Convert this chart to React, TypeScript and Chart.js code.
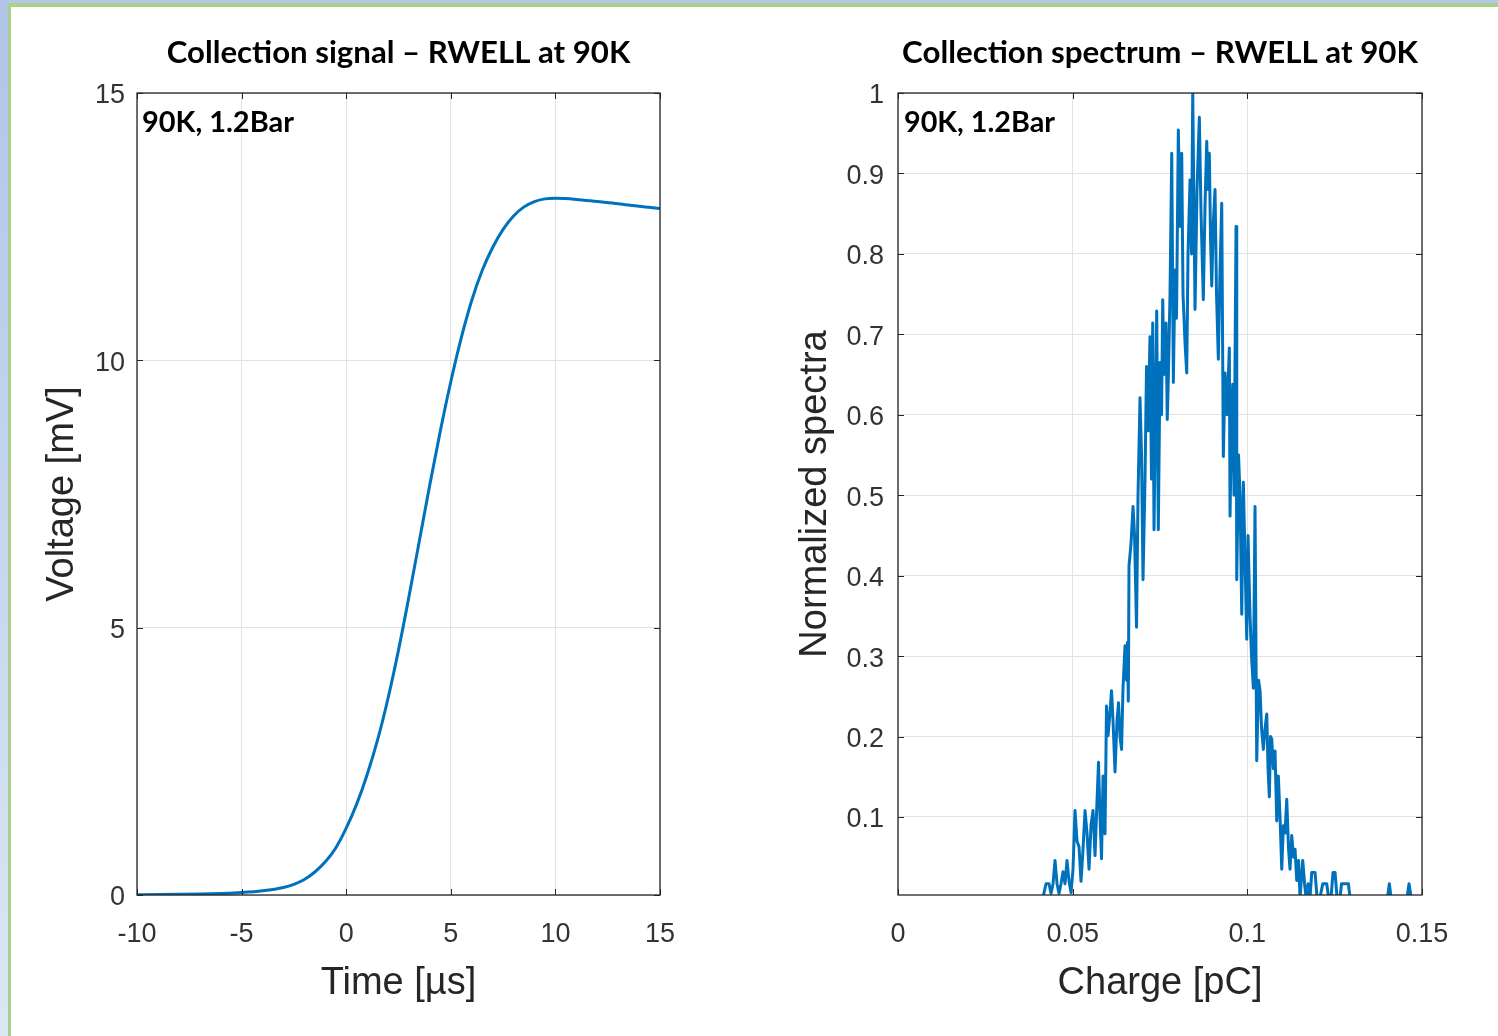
import React, { useEffect, useRef } from "react";
import { Chart, registerables } from "chart.js";

Chart.register(...registerables);

// ---------- Left panel: collection signal ----------
const SIGNAL_TIME = [
  -10, -9, -8, -7, -6, -5, -4, -3, -2.5, -2, -1.5, -1, -0.5, 0, 0.5, 1, 1.5, 2, 2.5, 3,
  3.5, 4, 4.5, 5, 5.5, 6, 6.5, 7, 7.5, 8, 8.5, 9, 9.5, 10, 11, 12, 13, 14, 15,
];
const SIGNAL_VOLTAGE = [
  0.005, 0.008, 0.012, 0.018, 0.028, 0.045, 0.078, 0.14, 0.2, 0.29, 0.43, 0.62, 0.88, 1.25,
  1.7, 2.25, 2.9, 3.68, 4.58, 5.58, 6.63, 7.68, 8.68, 9.6, 10.42, 11.12, 11.68, 12.11, 12.45,
  12.7, 12.87, 12.97, 13.02, 13.03, 13.01, 12.97, 12.93, 12.88, 12.84,
];
const SIGNAL_X_TICKS = [-10, -5, 0, 5, 10, 15];
const SIGNAL_Y_TICKS = [0, 5, 10, 15];

// ---------- Right panel: collection spectrum ----------
const SPECTRUM_CHARGE = [
  0.04151, 0.04237, 0.04323, 0.0438, 0.04438, 0.04495, 0.04552, 0.04609, 0.04667, 0.04724,
  0.04781, 0.04838, 0.04896, 0.04953, 0.0501, 0.05067, 0.05125, 0.05182, 0.05239, 0.05296,
  0.05354, 0.05411, 0.05468, 0.05525, 0.05583, 0.0564, 0.05697, 0.0574, 0.05783, 0.05826,
  0.05869, 0.05926, 0.05969, 0.06012, 0.06069, 0.06112, 0.06155, 0.06212, 0.0627, 0.06313,
  0.06356, 0.06399, 0.06441, 0.06499, 0.06542, 0.0657, 0.06593, 0.06613, 0.06671, 0.06728,
  0.06771, 0.06828, 0.06871, 0.06928, 0.06971, 0.07014, 0.07071, 0.07114, 0.07157, 0.07214,
  0.07257, 0.07292, 0.07329, 0.07406, 0.07452, 0.07501, 0.07544, 0.07578, 0.07615, 0.07673,
  0.07707, 0.07738, 0.07787, 0.07836, 0.07882, 0.0793, 0.07973, 0.08025, 0.08073, 0.08122,
  0.08159, 0.08216, 0.08265, 0.08302, 0.0836, 0.08403, 0.08437, 0.08474, 0.08503, 0.0856,
  0.08626, 0.08675, 0.0874, 0.08789, 0.08838, 0.08875, 0.08912, 0.08946, 0.08981, 0.09027,
  0.09075, 0.09118, 0.0917, 0.09218, 0.09267, 0.09313, 0.09362, 0.09419, 0.09485, 0.09505,
  0.09548, 0.09582, 0.09619, 0.09677, 0.09697, 0.09748, 0.09791, 0.0984, 0.09886, 0.09934,
  0.09983, 0.1002, 0.10077, 0.1012, 0.10172, 0.1022, 0.10269, 0.10321, 0.10364, 0.10407,
  0.10458, 0.10507, 0.10556, 0.10593, 0.1063, 0.10664, 0.10699, 0.10744, 0.10793, 0.10842,
  0.10888, 0.10936, 0.10985, 0.11031, 0.11079, 0.11128, 0.1118, 0.11222, 0.11271, 0.11323,
  0.11366, 0.11414, 0.11466, 0.11509, 0.11586, 0.11638, 0.11681, 0.11738, 0.11795, 0.11844,
  0.1189, 0.11938, 0.11996, 0.12081, 0.12159, 0.1221, 0.12273, 0.12325, 0.12396, 0.12453,
  0.12511, 0.12568, 0.12654, 0.12697, 0.12748, 0.12797, 0.1284, 0.12892, 0.1294, 0.14014,
  0.14065, 0.14114, 0.14572, 0.14629, 0.14687,
];
const SPECTRUM_VALUES = [
  0, 0.017, 0.017, 0.005, 0.017, 0.046, 0.017, 0.005, 0.017, 0.032,
  0.017, 0.046, 0.02, 0.006, 0.035, 0.108, 0.07, 0.063, 0.02, 0.06,
  0.108, 0.08, 0.035, 0.09, 0.108, 0.052, 0.12, 0.168, 0.1, 0.048,
  0.151, 0.079, 0.238, 0.201, 0.23, 0.257, 0.22, 0.156, 0.22, 0.242,
  0.2, 0.184, 0.26, 0.313, 0.27, 0.317, 0.244, 0.412, 0.44, 0.486,
  0.45, 0.336, 0.5, 0.621, 0.55, 0.395, 0.52, 0.66, 0.58, 0.697,
  0.52, 0.714, 0.457, 0.729, 0.457, 0.665, 0.6, 0.743, 0.65, 0.714,
  0.594, 0.644, 0.75, 0.925, 0.64, 0.78, 0.72, 0.954, 0.834, 0.925,
  0.75, 0.69, 0.652, 0.8, 0.892, 0.8, 1.0, 0.85, 0.731, 0.88,
  0.97, 0.85, 0.743, 0.86, 0.94, 0.88, 0.925, 0.82, 0.76, 0.84,
  0.88, 0.75, 0.669, 0.78, 0.863, 0.548, 0.652, 0.6, 0.683, 0.474,
  0.6, 0.638, 0.5, 0.834, 0.395, 0.55, 0.5, 0.352, 0.516, 0.42,
  0.321, 0.45, 0.35, 0.3, 0.26, 0.486, 0.17, 0.27, 0.257, 0.21,
  0.184, 0.21, 0.228, 0.16, 0.125, 0.2, 0.197, 0.16, 0.182, 0.095,
  0.151, 0.1, 0.035, 0.089, 0.08, 0.122, 0.06, 0.035, 0.077, 0.05,
  0.06, 0.021, 0.046, 0, 0.046, 0.017, 0, 0.017, 0, 0.031,
  0.031, 0.031, 0, 0, 0.017, 0.017, 0.017, 0, 0, 0.031,
  0.031, 0, 0, 0.017, 0.017, 0.017, 0.017, 0.017, 0, 0,
  0.017, 0, 0, 0.017, 0,
];
const SPECTRUM_X_TICKS = [0, 0.05, 0.1, 0.15];
const SPECTRUM_Y_TICKS = [0.1, 0.2, 0.3, 0.4, 0.5, 0.6, 0.7, 0.8, 0.9, 1];

const TITLE_SIGNAL = "Collection signal \u2013 RWELL at 90K";
const TITLE_SPECTRUM = "Collection spectrum \u2013 RWELL at 90K";
const NOTE = "90K, 1.2Bar";

const LINE_BLUE = "#0072BD";
const GRID = "#e2e2e2";
const AXIS_DARK = "#262626";
const TICK_FONT = "'Liberation Sans', Arial, sans-serif";
const BOLD_FONT = "Lato, 'Noto Sans', sans-serif";

function fitFontSize(ctx: CanvasRenderingContext2D, text: string, width: number) {
  ctx.font = `bold 100px ${BOLD_FONT}`;
  const w = ctx.measureText(text).width;
  return (100 * width) / w;
}

const decorPlugin = {
  id: "decor",
  afterDatasetsDraw(chart: any, _args: any, opts: any) {
    const { ctx } = chart;
    const { left, right, top, bottom } = chart.chartArea;
    const xs = chart.scales.x;
    const ys = chart.scales.y;
    ctx.save();
    ctx.strokeStyle = AXIS_DARK;
    ctx.lineWidth = 1;
    ctx.beginPath();
    for (const t of xs.ticks) {
      const p = Math.round(xs.getPixelForValue(t.value)) + 0.5;
      ctx.moveTo(p, bottom);
      ctx.lineTo(p, bottom - 6);
      ctx.moveTo(p, top);
      ctx.lineTo(p, top + 6);
    }
    for (const t of ys.ticks) {
      const p = Math.round(ys.getPixelForValue(t.value)) + 0.5;
      ctx.moveTo(left, p);
      ctx.lineTo(left + 6, p);
      ctx.moveTo(right, p);
      ctx.lineTo(right - 6, p);
    }
    ctx.stroke();
    ctx.lineWidth = 1.3;
    ctx.strokeRect(left, top, right - left, bottom - top);

    ctx.fillStyle = "#000";
    ctx.textBaseline = "alphabetic";
    ctx.textAlign = "center";
    const ts = fitFontSize(ctx, opts.title, opts.titleWidth);
    ctx.font = `bold ${ts}px ${BOLD_FONT}`;
    ctx.fillText(opts.title, (left + right) / 2, top - 30);

    ctx.textAlign = "left";
    const ns = fitFontSize(ctx, opts.note, opts.noteWidth);
    ctx.font = `bold ${ns}px ${BOLD_FONT}`;
    ctx.fillText(opts.note, left + opts.noteDx, top + 39);
    ctx.restore();
  },
};

type PanelCfg = {
  xs: number[];
  ys: number[];
  xMin: number;
  xMax: number;
  yMin: number;
  yMax: number;
  xTicks: number[];
  yTicks: number[];
  xTitle: string;
  yTitle: string;
  padRight: number;
  yAxisWidth: number;
  yTickPad: number;
  yTitlePad: number;
  lineWidth: number;
  smooth: boolean;
  title: string;
  titleWidth: number;
  noteWidth: number;
  noteDx: number;
};

function buildChart(canvas: HTMLCanvasElement, c: PanelCfg) {
  return new Chart(canvas, {
    type: "line",
    data: {
      datasets: [
        {
          data: c.xs.map((x, i) => ({ x, y: c.ys[i] })),
          borderColor: LINE_BLUE,
          borderWidth: c.lineWidth,
          pointRadius: 0,
          fill: false,
          cubicInterpolationMode: c.smooth ? "monotone" : "default",
          tension: 0,
          clip: 0,
          borderJoinStyle: "round",
        } as any,
      ],
    },
    options: {
      responsive: false,
      animation: false,
      events: [],
      layout: { padding: { left: 0, top: 93, right: c.padRight, bottom: 0 } },
      plugins: {
        legend: { display: false },
        tooltip: { enabled: false },
        decor: {
          title: c.title,
          titleWidth: c.titleWidth,
          note: NOTE,
          noteWidth: c.noteWidth,
          noteDx: c.noteDx,
        },
      } as any,
      scales: {
        x: {
          type: "linear",
          min: c.xMin,
          max: c.xMax,
          afterBuildTicks: (s: any) => {
            s.ticks = c.xTicks.map((v) => ({ value: v }));
          },
          afterFit: (s: any) => {
            s.height = 141;
            s.paddingLeft = 0;
            s.paddingRight = 0;
          },
          grid: { color: GRID, lineWidth: 1, drawTicks: false },
          border: { display: false },
          ticks: {
            padding: 23,
            autoSkip: false,
            maxRotation: 0,
            color: "#333",
            font: { family: TICK_FONT, size: 27 },
            callback: (v: any) => String(v),
          },
          title: {
            display: true,
            text: c.xTitle,
            color: AXIS_DARK,
            font: { family: TICK_FONT, size: 38 },
            padding: { top: 0, bottom: 30 },
          },
        },
        y: {
          type: "linear",
          min: c.yMin,
          max: c.yMax,
          afterBuildTicks: (s: any) => {
            s.ticks = c.yTicks.map((v) => ({ value: v }));
          },
          afterFit: (s: any) => {
            s.width = c.yAxisWidth;
            s.paddingTop = 0;
            s.paddingBottom = 0;
          },
          grid: { color: GRID, lineWidth: 1, drawTicks: false },
          border: { display: false },
          ticks: {
            padding: c.yTickPad,
            labelOffset: 3,
            autoSkip: false,
            color: "#333",
            font: { family: TICK_FONT, size: 27 },
            callback: (v: any) => String(v),
          },
          title: {
            display: true,
            text: c.yTitle,
            color: AXIS_DARK,
            font: { family: TICK_FONT, size: 38 },
            padding: { top: c.yTitlePad, bottom: 0 },
          },
        },
      },
    } as any,
    plugins: [decorPlugin as any],
  });
}

export default function App() {
  const leftRef = useRef<HTMLCanvasElement>(null);
  const rightRef = useRef<HTMLCanvasElement>(null);

  useEffect(() => {
    const a = buildChart(leftRef.current!, {
      xs: SIGNAL_TIME,
      ys: SIGNAL_VOLTAGE,
      xMin: -10,
      xMax: 15,
      yMin: 0,
      yMax: 15,
      xTicks: SIGNAL_X_TICKS,
      yTicks: SIGNAL_Y_TICKS,
      xTitle: "Time [\u00b5s]",
      yTitle: "Voltage [mV]",
      padRight: 89,
      yAxisWidth: 137,
      yTickPad: 12,
      yTitlePad: 40,
      lineWidth: 3,
      smooth: true,
      title: TITLE_SIGNAL,
      titleWidth: 464,
      noteWidth: 152,
      noteDx: 5,
    });
    const b = buildChart(rightRef.current!, {
      xs: SPECTRUM_CHARGE,
      ys: SPECTRUM_VALUES,
      xMin: 0,
      xMax: 0.15,
      yMin: 0.003,
      yMax: 1,
      xTicks: SPECTRUM_X_TICKS,
      yTicks: SPECTRUM_Y_TICKS,
      xTitle: "Charge [pC]",
      yTitle: "Normalized spectra",
      padRight: 76,
      yAxisWidth: 149,
      yTickPad: 14,
      yTitlePad: 44,
      lineWidth: 3,
      smooth: false,
      title: TITLE_SPECTRUM,
      titleWidth: 516,
      noteWidth: 151,
      noteDx: 6,
    });
    return () => {
      a.destroy();
      b.destroy();
    };
  }, []);

  return (
    <div
      style={{
        position: "absolute",
        left: 0,
        top: 0,
        width: 1498,
        height: 1036,
        background: "#ffffff",
        overflow: "hidden",
      }}
    >
      <div style={{ position: "absolute", left: 0, top: 0, width: 1498, height: 4, background: "#b4c7e7" }} />
      <div
        style={{
          position: "absolute",
          left: 0,
          top: 0,
          width: 8,
          height: 1036,
          background: "linear-gradient(#b0c4e8, #dbe7f4)",
        }}
      />
      <div style={{ position: "absolute", left: 8, top: 3, width: 1490, height: 4, background: "#a9d18e" }} />
      <div style={{ position: "absolute", left: 8, top: 3, width: 3, height: 1033, background: "#a9d18e" }} />
      <canvas
        ref={leftRef}
        width={749}
        height={1036}
        style={{ position: "absolute", left: 0, top: 0, width: 749, height: 1036 }}
      />
      <canvas
        ref={rightRef}
        width={749}
        height={1036}
        style={{ position: "absolute", left: 749, top: 0, width: 749, height: 1036 }}
      />
    </div>
  );
}
